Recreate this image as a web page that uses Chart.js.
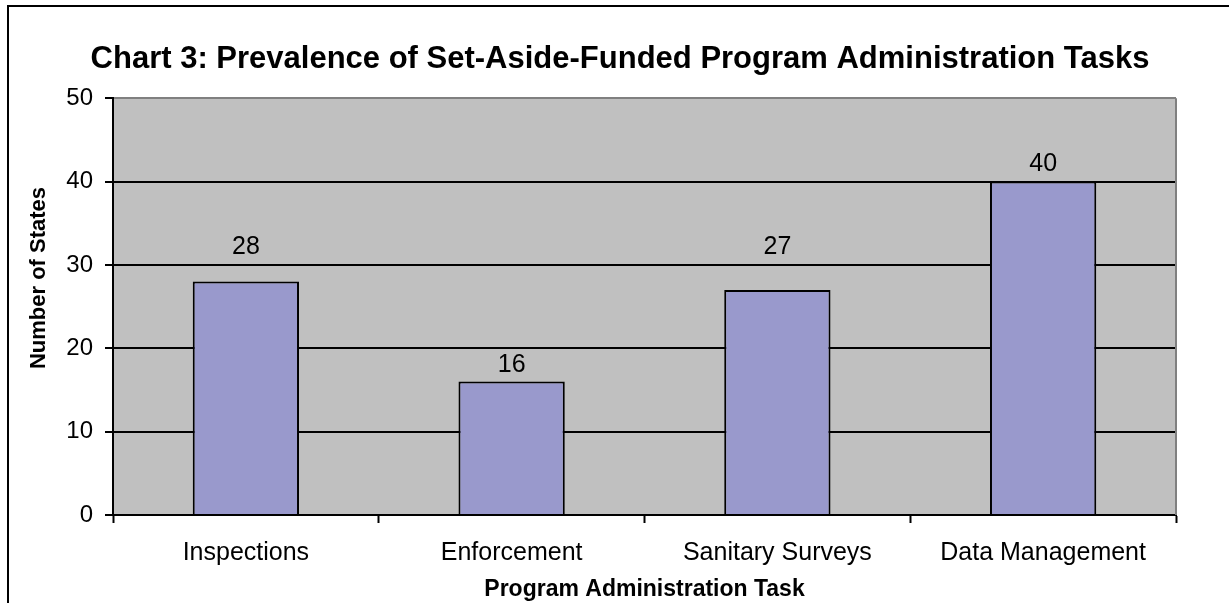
<!DOCTYPE html>
<html>
<head>
<meta charset="utf-8">
<script src="https://cdn.jsdelivr.net/npm/chart.js@4.4.1/dist/chart.umd.min.js"></script>
<style>
  html, body { margin: 0; padding: 0; background: #fff; overflow: hidden; }
  #wrap { position: relative; width: 1229px; height: 603px; }
  #frame { position: absolute; left: 7px; top: 5px; width: 1400px; height: 800px;
           border-left: 2px solid #000; border-top: 2px solid #000; pointer-events: none; }
</style>
</head>
<body>
<div id="wrap">
  <canvas id="myChart"></canvas>
  <div id="frame"></div>
</div>
<script>
var categories = ['Inspections', 'Enforcement', 'Sanitary Surveys', 'Data Management'];
var stateCounts = [28, 16, 27, 40];
var yTicks = [0, 10, 20, 30, 40, 50];

var chartTitle = 'Chart 3: Prevalence of Set-Aside-Funded Program Administration Tasks';
var xTitle = 'Program Administration Task';
var yTitle = 'Number of States';

var fontFamily = 'Arial, "Liberation Sans", sans-serif';

// grey plot background, grey right edge, and the y axis title (sits a bit above centre)
var plotBack = {
    id: 'plotBack',
    afterLayout: function (chart) {
        // centre the title over the whole frame rather than over the padded box
        if (chart.titleBlock) {
            chart.titleBlock.left = 0;
            chart.titleBlock.right = 1240;
        }
    },
    beforeDraw: function (chart) {
        var a = chart.chartArea, ctx = chart.ctx;
        ctx.save();
        ctx.fillStyle = '#c0c0c0';
        ctx.fillRect(a.left, a.top, a.right - a.left, a.bottom - a.top);
        ctx.restore();
    },
    afterDraw: function (chart) {
        var a = chart.chartArea, ctx = chart.ctx;
        ctx.save();
        ctx.strokeStyle = '#808080';
        ctx.lineWidth = 2;
        ctx.beginPath();
        ctx.moveTo(a.right, a.top);
        ctx.lineTo(a.right, a.bottom);
        ctx.stroke();

        ctx.translate(39, 278);
        ctx.rotate(-Math.PI / 2);
        ctx.font = 'bold 22px ' + fontFamily;
        ctx.fillStyle = '#000';
        ctx.textAlign = 'center';
        ctx.textBaseline = 'middle';
        ctx.fillText(yTitle, 0, 0);
        ctx.restore();
    }
};

// value labels above the bars, pushed above a gridline when they would sit on it
var barLabels = {
    id: 'barLabels',
    afterDatasetsDraw: function (chart) {
        var ctx = chart.ctx, yScale = chart.scales.y;
        var meta = chart.getDatasetMeta(0);
        ctx.save();
        ctx.font = '25px ' + fontFamily;
        ctx.fillStyle = '#000';
        ctx.textAlign = 'center';
        ctx.textBaseline = 'middle';
        meta.data.forEach(function (bar, i) {
            var y = bar.y - 17;
            yTicks.forEach(function (t) {
                var gy = yScale.getPixelForValue(t);
                if (Math.abs(gy - y) < 12) y = gy - 18;
            });
            ctx.fillText(String(stateCounts[i]), bar.x, y);
        });
        ctx.restore();
    }
};

new Chart('myChart', {
    type: 'bar',
    data: {
        labels: categories,
        datasets: [{
            data: stateCounts,
            backgroundColor: '#9999cc',
            borderColor: '#000',
            borderWidth: 2,
            barPercentage: 0.4,
            categoryPercentage: 1.0
        }]
    },
    options: {
        responsive: true,
        maintainAspectRatio: false,
        animation: false,
        layout: { padding: { left: 0, right: 53, top: 0, bottom: 0 } },
        plugins: {
            legend: { display: false },
            tooltip: { enabled: false },
            title: {
                display: true,
                text: chartTitle,
                color: '#000',
                font: { family: fontFamily, size: 31, weight: 'bold', lineHeight: 1.2 },
                padding: { top: 41, bottom: 20 }
            }
        },
        scales: {
            x: {
                afterFit: function (s) { s.height = 88; },
                grid: {
                    offset: true,
                    drawOnChartArea: false,
                    drawTicks: true,
                    tickLength: 8,
                    tickColor: '#000',
                    tickWidth: 2
                },
                border: { display: true, color: '#000', width: 2 },
                ticks: {
                    color: '#000',
                    padding: 15,
                    font: { family: fontFamily, size: 25 }
                },
                title: {
                    display: true,
                    text: xTitle,
                    color: '#000',
                    font: { family: fontFamily, size: 23, weight: 'bold' },
                    padding: { top: 0, bottom: 0 }
                }
            },
            y: {
                min: 0,
                max: 50,
                afterFit: function (s) { s.width = 113; },
                afterBuildTicks: function (s) { s.ticks = yTicks.map(function (v) { return { value: v }; }); },
                grid: {
                    color: function (c) { return c.tick && c.tick.value === 50 ? '#808080' : '#000'; },
                    lineWidth: 2,
                    drawTicks: true,
                    tickLength: 8,
                    tickColor: '#000',
                    tickWidth: 2
                },
                border: { display: true, color: '#000', width: 2 },
                ticks: {
                    color: '#000',
                    padding: 12,
                    font: { family: fontFamily, size: 24 }
                },
                title: { display: false, text: yTitle }
            }
        }
    },
    plugins: [plotBack, barLabels]
});
</script>
</body>
</html>
